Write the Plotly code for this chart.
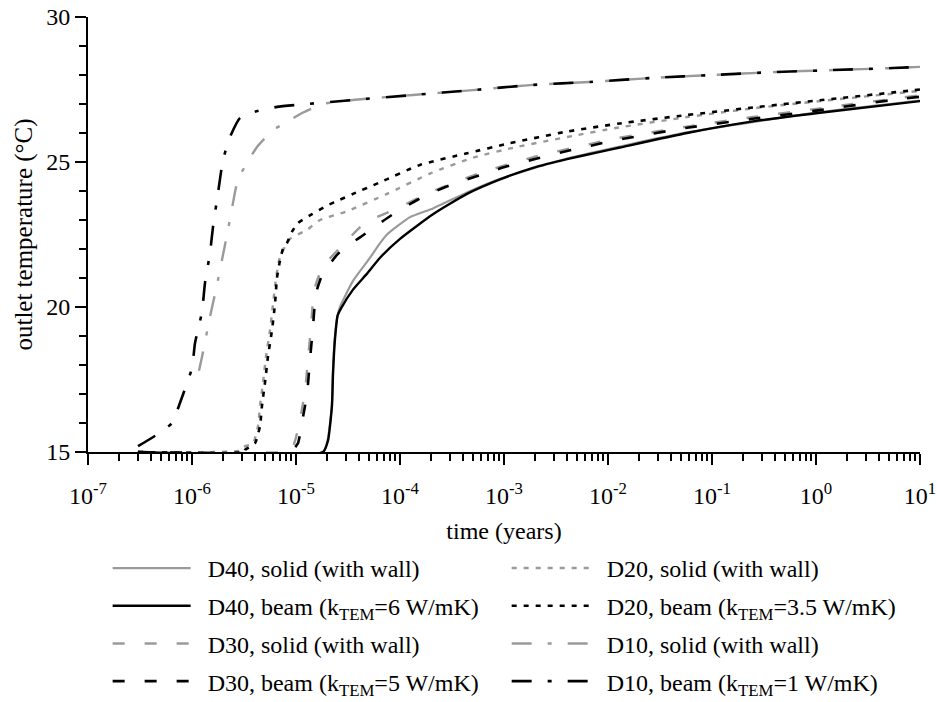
import plotly.graph_objects as go

# ---------------- data (time in log10(years), temperature in °C) ----------------
d40_solid_logt = [-6.52, -4.74, -4.696, -4.656, -4.646, -4.628, -4.6, -4.577, -4.452, -4.288,
                  -4.192, -4.125, -3.904, -3.683, -3.356, -3.038, -2.394, -1.24, 0.038, 1.0]
d40_solid_temp = [15.0, 15.0, 15.4, 16.6, 17.7, 18.9, 19.7, 20.0, 20.9, 21.7,
                  22.2, 22.5, 23.1, 23.4, 23.95, 24.42, 25.12, 26.02, 26.72, 27.12]

d40_beam_logt = [-6.52, -4.74, -4.692, -4.654, -4.644, -4.625, -4.6, -4.567, -4.452, -4.317,
                 -4.192, -4.0, -3.683, -3.356, -3.038, -2.721, -2.394, -2.077, -1.885, -1.24,
                 -0.606, 0.038, 1.0]
d40_beam_temp = [15.0, 15.0, 15.4, 16.6, 17.7, 18.9, 19.7, 19.95, 20.6, 21.15,
                 21.7, 22.35, 23.2, 23.9, 24.4, 24.8, 25.1, 25.35, 25.5, 26.0,
                 26.4, 26.7, 27.1]

d30_solid_logt = [-6.52, -5.067, -5.038, -5.0, -4.952, -4.913, -4.885, -4.856, -4.837, -4.808,
                  -4.74, -4.548, -4.337, -4.029, -3.712, -3.231, -2.683, -1.913, -1.24, -0.606,
                  0.038, 1.0]
d30_solid_temp = [15.0, 15.0, 15.1, 15.5, 16.3, 17.1, 18.2, 19.3, 20.2, 20.8,
                  21.4, 22.15, 22.9, 23.4, 23.95, 24.62, 25.2, 25.82, 26.22, 26.55,
                  26.85, 27.3]

d30_beam_logt = [-6.52, -5.04, -5.029, -4.981, -4.933, -4.894, -4.865, -4.837, -4.817, -4.798,
                 -4.75, -4.692, -4.606, -4.51, -4.385, -4.269, -4.067, -3.779, -3.519, -3.231,
                 -2.971, -2.683, -2.394, -2.144, -1.913, -1.24, -0.606, 0.038, 0.779, 1.0]
d30_beam_temp = [15.0, 15.0, 15.07, 15.3, 16.2, 17.0, 18.2, 19.3, 20.2, 20.6,
                 21.1, 21.4, 21.8, 22.1, 22.4, 22.7, 23.2, 23.8, 24.2, 24.55,
                 24.85, 25.12, 25.38, 25.58, 25.76, 26.18, 26.49, 26.79, 27.16, 27.25]

d20_solid_logt = [-6.52, -5.538, -5.51, -5.413, -5.365, -5.346, -5.317, -5.288, -5.25, -5.221,
                  -5.192, -5.163, -5.125, -5.058, -4.894, -4.769, -4.51, -4.125, -3.712, -3.298,
                  -2.875, -2.337, -1.913, -1.24, -0.606, 0.038, 1.0]
d20_solid_temp = [15.0, 15.05, 15.17, 15.3, 15.9, 16.6, 17.4, 18.3, 19.2, 20.1,
                  21.0, 21.6, 21.95, 22.35, 22.66, 23.0, 23.3, 23.9, 24.6, 25.15,
                  25.52, 25.9, 26.18, 26.55, 26.85, 27.1, 27.45]

d20_beam_logt = [-6.52, -5.5, -5.49, -5.394, -5.346, -5.327, -5.298, -5.269, -5.231, -5.202,
                 -5.183, -5.154, -5.125, -5.087, -5.038, -4.981, -4.846, -4.702, -4.577, -4.452,
                 -4.192, -3.808, -3.356, -2.942, -2.394, -1.885, -1.24, -0.606, 0.038, 0.903, 1.0]
d20_beam_temp = [15.0, 15.0, 15.07, 15.3, 15.9, 16.6, 17.4, 18.3, 19.2, 20.1,
                 21.0, 21.6, 22.0, 22.2, 22.6, 22.9, 23.2, 23.5, 23.7, 23.9,
                 24.3, 24.9, 25.3, 25.65, 26.05, 26.33, 26.62, 26.88, 27.13, 27.46, 27.5]

d10_solid_logt = [-5.933, -5.904, -5.827, -5.76, -5.712, -5.654, -5.606, -5.558, -5.481, -5.375,
                  -5.221, -5.106, -4.942, -4.74, -4.452, -3.875, -3.298, -2.721, -2.173, -1.567,
                  -0.99, -0.413, 0.163, 0.74, 1.0]
d10_solid_temp = [17.8, 18.28, 19.66, 20.76, 21.62, 22.66, 23.59, 24.41, 24.9, 25.52,
                  26.1, 26.34, 26.69, 27.0, 27.14, 27.31, 27.48, 27.66, 27.76, 27.9,
                  28.0, 28.1, 28.17, 28.24, 28.28]

d10_beam_logt = [-6.519, -6.337, -6.192, -6.115, -6.0, -5.971, -5.904, -5.875, -5.827, -5.798,
                 -5.75, -5.702, -5.635, -5.538, -5.413, -5.183, -4.894, -4.452, -3.875, -3.298,
                 -2.721, -2.173, -1.567, -0.99, -0.413, 0.163, 0.74, 1.0]
d10_beam_temp = [15.2, 15.6, 16.0, 16.7, 17.9, 18.76, 19.83, 20.83, 21.86, 22.76,
                 23.93, 25.07, 25.86, 26.52, 26.72, 26.9, 27.0, 27.14, 27.31, 27.48,
                 27.66, 27.76, 27.9, 28.0, 28.1, 28.17, 28.24, 28.28]

x_tick_exponents = [-7, -6, -5, -4, -3, -2, -1, 0, 1]
y_tick_values = [15, 20, 25, 30]

GRAY = "#9a9a9a"
BLACK = "#000000"
FONT = "Liberation Serif"
SP = "\u2002"

DOT = "5px,7px"
DASH = "12px,20px"
DASHDOT = "20px,16px,4px,16px"


def t(logs):
    return [10 ** v for v in logs]


# (name, logt, temp, color, dash, width, legend)
series = [
    ("D40, solid (with wall)", d40_solid_logt, d40_solid_temp, GRAY, "solid", 2.2, "legend"),
    ("D20, solid (with wall)", d20_solid_logt, d20_solid_temp, GRAY, DOT, 2.4, "legend2"),
    ("D40, beam (k<sub>TEM</sub>=6 W/mK)", d40_beam_logt, d40_beam_temp, BLACK, "solid", 2.4, "legend"),
    ("D20, beam (k<sub>TEM</sub>=3.5 W/mK)", d20_beam_logt, d20_beam_temp, BLACK, DOT, 2.6, "legend2"),
    ("D30, solid (with wall)", d30_solid_logt, d30_solid_temp, GRAY, DASH, 2.4, "legend"),
    ("D10, solid (with wall)", d10_solid_logt, d10_solid_temp, GRAY, DASHDOT, 2.4, "legend2"),
    ("D30, beam (k<sub>TEM</sub>=5 W/mK)", d30_beam_logt, d30_beam_temp, BLACK, DASH, 2.6, "legend"),
    ("D10, beam (k<sub>TEM</sub>=1 W/mK)", d10_beam_logt, d10_beam_temp, BLACK, DASHDOT, 2.6, "legend2"),
]

fig = go.Figure()
for i, (name, lt, tp, col, dash, w, lg) in enumerate(series):
    fig.add_trace(go.Scatter(
        x=t(lt), y=tp, mode="lines", name=SP + name,
        line=dict(color=col, dash=dash, width=w, shape="spline", smoothing=0.5),
        legend=lg, legendgroup="g%d" % i,
    ))

legend_common = dict(
    orientation="v",
    xanchor="left", yanchor="top", y=-0.216,
    itemwidth=78, tracegroupgap=3.5, traceorder="grouped",
    font=dict(family=FONT, size=24, color="black"),
    bgcolor="rgba(0,0,0,0)", borderwidth=0,
    itemclick=False, itemdoubleclick=False,
)

fig.update_layout(
    width=937, height=702,
    margin=dict(l=88, r=17, t=17, b=250, autoexpand=False),
    paper_bgcolor="white", plot_bgcolor="white",
    font=dict(family=FONT, size=24, color="black"),
    showlegend=True,
    legend=dict(x=0.0236, **legend_common),
    legend2=dict(x=0.5032, **legend_common),
    xaxis=dict(
        type="log", range=[-7, 1],
        tickmode="array",
        tickvals=[10 ** e for e in x_tick_exponents],
        ticktext=["10<sup>%d</sup>" % e for e in x_tick_exponents],
        ticks="outside", ticklen=11, tickwidth=1.5, tickcolor="black",
        ticklabelstandoff=10,
        minor=dict(ticks="outside", ticklen=7, tickwidth=1.5, tickcolor="black", dtick="D1"),
        showline=True, linecolor="black", linewidth=2,
        showgrid=False, zeroline=False,
        title=dict(text="time (years)", font=dict(family=FONT, size=24), standoff=14),
        tickfont=dict(family=FONT, size=24),
    ),
    yaxis=dict(
        range=[15, 30], tickmode="array", tickvals=y_tick_values,
        ticks="outside", ticklen=11, tickwidth=1.5, tickcolor="black",
        minor=dict(ticks="outside", ticklen=7, tickwidth=1.5, tickcolor="black", dtick=1),
        showline=True, linecolor="black", linewidth=2,
        showgrid=False, zeroline=False,
        title=dict(text="outlet temperature (°C)", font=dict(family=FONT, size=25), standoff=6),
        tickfont=dict(family=FONT, size=24),
    ),
)

fig.write_html("out.html")
